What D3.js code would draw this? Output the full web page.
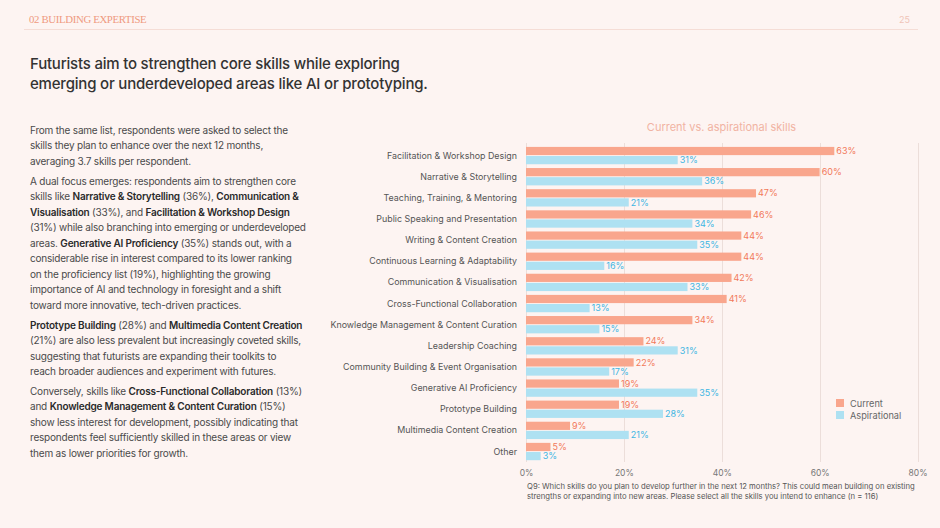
<!DOCTYPE html>
<html>
<head>
<meta charset="utf-8">
<script src="https://cdn.jsdelivr.net/npm/d3@7"></script>
<style>
  html, body { margin: 0; padding: 0; background: #fdf4f2; }
  svg { display: block; font-family: Inter, "Noto Sans", sans-serif; }
</style>
</head>
<body>
<script>
'use strict';
const categories = [
  'Facilitation & Workshop Design',
  'Narrative & Storytelling',
  'Teaching, Training, & Mentoring',
  'Public Speaking and Presentation',
  'Writing & Content Creation',
  'Continuous Learning & Adaptability',
  'Communication & Visualisation',
  'Cross-Functional Collaboration',
  'Knowledge Management & Content Curation',
  'Leadership Coaching',
  'Community Building & Event Organisation',
  'Generative AI Proficiency',
  'Prototype Building',
  'Multimedia Content Creation',
  'Other'
];
const current = [63, 60, 47, 46, 44, 44, 42, 41, 34, 24, 22, 19, 19, 9, 5];
const aspirational = [31, 36, 21, 34, 35, 16, 33, 13, 15, 31, 17, 35, 28, 21, 3];
const seriesNames = ['Current', 'Aspirational'];
const xTicks = [0, 20, 40, 60, 80];

// left column copy, one entry per line; [text, bold]
const paragraphs = [
  [
    [['From the same list, respondents were asked to select the', false]],
    [['skills they plan to enhance over the next 12 months,', false]],
    [['averaging 3.7 skills per respondent.', false]]
  ],
  [
    [['A dual focus emerges: respondents aim to strengthen core', false]],
    [['skills like ', false], ['Narrative & Storytelling', true], [' (36%), ', false], ['Communication &', true]],
    [['Visualisation', true], [' (33%), and ', false], ['Facilitation & Workshop Design', true]],
    [['(31%) while also branching into emerging or underdeveloped', false]],
    [['areas. ', false], ['Generative AI Proficiency', true], [' (35%) stands out, with a', false]],
    [['considerable rise in interest compared to its lower ranking', false]],
    [['on the proficiency list (19%), highlighting the growing', false]],
    [['importance of AI and technology in foresight and a shift', false]],
    [['toward more innovative, tech-driven practices.', false]]
  ],
  [
    [['Prototype Building', true], [' (28%) and ', false], ['Multimedia Content Creation', true]],
    [['(21%) are also less prevalent but increasingly coveted skills,', false]],
    [['suggesting that futurists are expanding their toolkits to', false]],
    [['reach broader audiences and experiment with futures.', false]]
  ],
  [
    [['Conversely, skills like ', false], ['Cross-Functional Collaboration', true], [' (13%)', false]],
    [['and ', false], ['Knowledge Management & Content Curation', true], [' (15%)', false]],
    [['show less interest for development, possibly indicating that', false]],
    [['respondents feel sufficiently skilled in these areas or view', false]],
    [['them as lower priorities for growth.', false]]
  ]
];

const colors = { Current: '#f9a68d', Aspirational: '#aee1f2' };
const labelColors = { Current: '#f2795a', Aspirational: '#3db6e3' };

const svg = d3.select('body').append('svg')
  .attr('width', 940)
  .attr('height', 528);

svg.append('rect').attr('width', 940).attr('height', 528).attr('fill', '#fdf4f2');

// header
svg.append('text')
  .attr('x', 29).attr('y', 23)
  .style('font-family', '"Liberation Serif", "DejaVu Serif", serif')
  .style('font-size', '10.8px')
  .style('letter-spacing', '-0.35px')
  .attr('fill', '#ef9a80')
  .text('02 BUILDING EXPERTISE');
svg.append('text')
  .attr('x', 910).attr('y', 23)
  .attr('text-anchor', 'end')
  .style('font-size', '9px')
  .attr('fill', '#f0c4b8')
  .text('25');
svg.append('line')
  .attr('x1', 24).attr('x2', 918)
  .attr('y1', 29.5).attr('y2', 29.5)
  .attr('stroke', '#f5ddd6').attr('stroke-width', 1.2);

// title
['Futurists aim to strengthen core skills while exploring',
 'emerging or underdeveloped areas like AI or prototyping.'].forEach((t, i) => {
  svg.append('text')
    .attr('x', 30).attr('y', 69 + i * 20)
    .style('font-size', '15px').style('font-weight', 500)
    .style('letter-spacing', '-0.2px')
    .attr('fill', '#333')
    .text(t);
});

// left copy
let lineY = 134;
paragraphs.forEach((para) => {
  para.forEach((line) => {
    let t = svg.append('text')
      .attr('x', 30).attr('y', lineY)
      .style('font-size', '10px')
      .style('letter-spacing', '-0.2px')
      .attr('fill', '#4a4a4a');
    line.forEach((seg) => {
      t.append('tspan')
        .style('font-weight', seg[1] ? 600 : 400)
        .attr('fill', seg[1] ? '#2a2a2a' : '#4a4a4a')
        .text(seg[0]);
    });
    lineY += 15.45;
  });
  lineY += 4.6;
});

// chart
const x = d3.scaleLinear().domain([0, 80]).range([526, 917.5]);
const y = d3.scaleBand().domain(categories).range([145, 462.1])
  .paddingInner(0.18).paddingOuter(0.09);
const ySub = d3.scaleBand().domain(seriesNames).range([0, y.bandwidth()]).paddingInner(0.1);

svg.append('text')
  .attr('x', 721.5).attr('y', 131)
  .attr('text-anchor', 'middle')
  .style('font-size', '11px')
  .attr('fill', '#f1b3a2')
  .text('Current vs. aspirational skills');

svg.append('g').selectAll('line')
  .data(xTicks)
  .enter()
  .append('line')
  .attr('x1', (d) => Math.round(x(d)) + 0.5)
  .attr('x2', (d) => Math.round(x(d)) + 0.5)
  .attr('y1', 143).attr('y2', 462)
  .attr('stroke', '#ecdeda').attr('stroke-width', 1);

let rows = categories.map((c, i) => ({ cat: c, Current: current[i], Aspirational: aspirational[i] }));

let rowG = svg.append('g').selectAll('g')
  .data(rows)
  .enter()
  .append('g')
  .attr('transform', (d) => 'translate(0,' + y(d.cat) + ')');

rowG.append('text')
  .attr('x', 517)
  .attr('y', y.bandwidth() / 2 + 3)
  .attr('text-anchor', 'end')
  .style('font-size', '8.9px')
  .attr('fill', '#555')
  .text((d) => d.cat);

seriesNames.forEach((s) => {
  rowG.append('rect')
    .attr('x', x(0))
    .attr('y', ySub(s))
    .attr('width', (d) => x(d[s]) - x(0))
    .attr('height', ySub.bandwidth())
    .attr('fill', colors[s]);
  rowG.append('text')
    .attr('x', (d) => x(d[s]) + 2)
    .attr('y', ySub(s) + ySub.bandwidth() / 2 + 3.2)
    .style('font-size', '9px')
    .attr('fill', labelColors[s])
    .text((d) => d[s] + '%');
});

// x axis labels
let xAxis = svg.append('g')
  .attr('transform', 'translate(0,462)')
  .call(d3.axisBottom(x).tickValues(xTicks).tickSize(0).tickPadding(8).tickFormat((d) => d + '%'));
xAxis.select('.domain').remove();
xAxis.selectAll('text')
  .style('font-family', 'Inter, "Noto Sans", sans-serif')
  .style('font-size', '8.5px')
  .attr('fill', '#777');

// legend
let legend = svg.append('g').selectAll('g')
  .data(seriesNames)
  .enter()
  .append('g')
  .attr('transform', (d, i) => 'translate(836,' + (399 + i * 12) + ')');
legend.append('rect')
  .attr('width', 8).attr('height', 8)
  .attr('fill', (d) => colors[d]);
legend.append('text')
  .attr('x', 14).attr('y', 7.5)
  .style('font-size', '9.2px')
  .attr('fill', '#666')
  .text((d) => d);

// footnote
svg.append('text')
  .attr('x', 527).attr('y', 489)
  .style('font-size', '7.7px')
  .attr('fill', '#555')
  .text('Q9: Which skills do you plan to develop further in the next 12 months? This could mean building on existing');
svg.append('text')
  .attr('x', 527).attr('y', 499)
  .style('font-size', '7.7px')
  .attr('fill', '#555')
  .text('strengths or expanding into new areas. Please select all the skills you intend to enhance (n = 116)');
</script>
</body>
</html>
